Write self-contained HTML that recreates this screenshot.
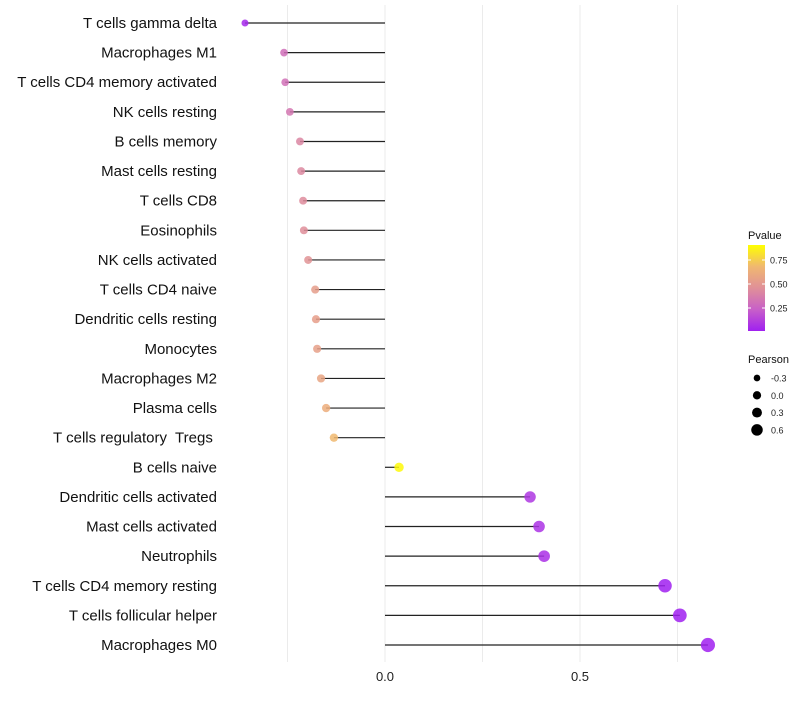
<!DOCTYPE html>
<html><head><meta charset="utf-8"><style>
body{margin:0;background:#fff;font-family:"Liberation Sans",sans-serif}
svg text{font-family:"Liberation Sans",sans-serif;white-space:pre}
</style></head><body>
<svg id="chart" width="800" height="700"></svg>
<script>
const categories=["T cells gamma delta","Macrophages M1","T cells CD4 memory activated","NK cells resting","B cells memory","Mast cells resting","T cells CD8","Eosinophils","NK cells activated","T cells CD4 naive","Dendritic cells resting","Monocytes","Macrophages M2","Plasma cells","T cells regulatory  Tregs ","B cells naive","Dendritic cells activated","Mast cells activated","Neutrophils","T cells CD4 memory resting","T cells follicular helper","Macrophages M0"];
const pearson=[-0.359,-0.259,-0.256,-0.244,-0.218,-0.215,-0.210,-0.208,-0.197,-0.179,-0.177,-0.174,-0.164,-0.151,-0.131,0.036,0.372,0.395,0.408,0.718,0.756,0.828];
const pvalue=[0.03,0.33,0.34,0.37,0.45,0.46,0.48,0.49,0.52,0.58,0.59,0.60,0.63,0.68,0.75,0.98,0.09,0.07,0.06,0.001,0.0006,0.0001];
const xTicks=[0,0.5];
const xGrid=[-0.25,0.25,0.75];
const pTicks=[0.25,0.5,0.75];
const sizeTicks=[-0.3,0.0,0.3,0.6];
const NS="http://www.w3.org/2000/svg";
const svg=document.getElementById('chart');
const x=v=>385+v*390;
const y=i=>23+i*(645-23)/21;
const r=p=>Math.max(2,4.6+3*p);
const stops=[[0,[160,32,240]],[0.25,[200,96,200]],[0.5,[224,144,152]],[0.75,[240,184,112]],[1,[255,255,0]]];
function col(p){for(let k=1;k<stops.length;k++){if(p<=stops[k][0]){const a=stops[k-1],b=stops[k],t=(p-a[0])/(b[0]-a[0]);return 'rgb('+a[1].map((c,j)=>Math.round(c+(b[1][j]-c)*t)).join(',')+')';}}return 'rgb(255,255,0)';}
function el(t,at,txt){const e=document.createElementNS(NS,t);for(const k in at)e.setAttribute(k,at[k]);if(txt!==undefined)e.textContent=txt;svg.appendChild(e);return e;}
xGrid.concat(xTicks).forEach(v=>{const g=el('line',{x1:x(v),x2:x(v),y1:5,y2:662,stroke:'#ebebeb','stroke-width':1});

});
xTicks.forEach(v=>{const t=el('text',{x:x(v),y:681,'text-anchor':'middle','font-size':13,fill:'#222'},v.toFixed(1));

});
categories.forEach((c,i)=>{
const l=el('line',{x1:x(0),x2:x(pearson[i]),y1:y(i),y2:y(i),stroke:'#222','stroke-width':1.2});


const d=el('circle',{cx:x(pearson[i]),cy:y(i),r:r(pearson[i]),fill:col(pvalue[i]),'fill-opacity':0.85});


const t=el('text',{x:217,y:y(i)+5,'text-anchor':'end','font-size':15,fill:'#111'},c);


});
const lt=el('text',{x:748,y:239,'font-size':11,fill:'#111'},'Pvalue');


const defs=el('defs',{});
const lg=document.createElementNS(NS,'linearGradient');lg.setAttribute('id','pg');lg.setAttribute('x1','0');lg.setAttribute('y1','1');lg.setAttribute('x2','0');lg.setAttribute('y2','0');
stops.forEach(s=>{const st=document.createElementNS(NS,'stop');st.setAttribute('offset',s[0]);st.setAttribute('stop-color','rgb('+s[1].join(',')+')');lg.appendChild(st);});
defs.appendChild(lg);
const cb=el('rect',{x:748,y:245,width:17,height:86,fill:'url(#pg)'});


const py=p=>332-p*96;
pTicks.forEach(p=>{el('line',{x1:748,x2:751,y1:py(p),y2:py(p),stroke:'#fff'});el('line',{x1:762,x2:765,y1:py(p),y2:py(p),stroke:'#fff'});
const t=el('text',{x:770,y:py(p)+3.5,'font-size':9,fill:'#222'},p.toFixed(2));

});
const st=el('text',{x:748,y:363,'font-size':11,fill:'#111'},'Pearson');


sizeTicks.forEach((p,k)=>{const yy=378+k*17.3;
const c=el('circle',{cx:757,cy:yy,r:r(p)*0.9,fill:'#000'});


const t=el('text',{x:771,y:yy+3.5,'font-size':9,fill:'#222'},p.toFixed(1));

});
</script>
</body></html>
